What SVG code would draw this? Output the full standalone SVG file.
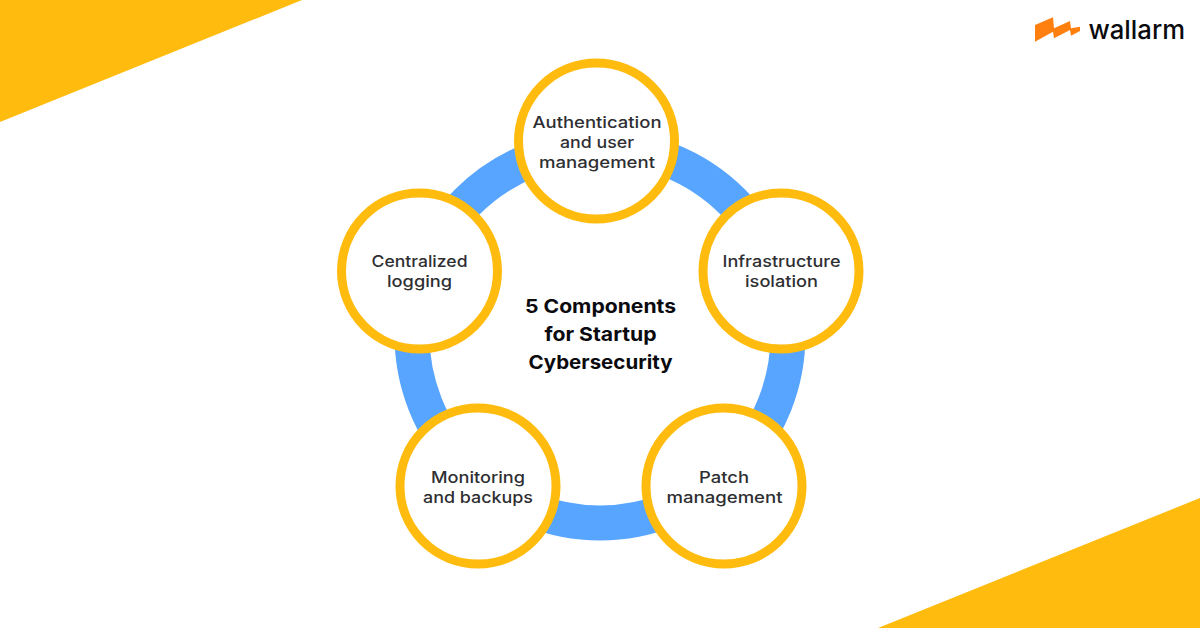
<svg xmlns="http://www.w3.org/2000/svg" width="1200" height="628" viewBox="0 0 1200 628">
<style>
.c{fill:#fff;stroke:#ffbc0f;stroke-width:9}
.t{font-family:"Inter","Liberation Sans",sans-serif;font-size:16px;font-weight:500;fill:#2f2f33;text-anchor:middle}
.h{font-family:"Inter","Liberation Sans",sans-serif;font-size:19px;font-weight:700;fill:#0b0b0f;text-anchor:middle}
</style>
<rect width="1200" height="628" fill="#fff"/>
<polygon points="0,0 302,0 0,122" fill="#ffbc0f"/>
<polygon points="1200,498 1200,628 878,628" fill="#ffbc0f"/>
<g id="logo">
<polygon points="1035,25 1053,17.300 1054,28.300 1070,21 1071,28.300 1080,26.700 1080,31 1071,35.700 1070,30 1054,38.300 1053,31.700 1035,41.700" fill="#ff7f0f"/>
<text x="1088.500" y="38.500" font-family="Inter,'Liberation Sans',sans-serif" font-size="26" font-weight="500" fill="#0b0b0f" textLength="96.500" lengthAdjust="spacingAndGlyphs">wallarm</text>
</g>
<g id="connectors"><circle cx="600" cy="335" r="188" fill="none" stroke="#57a5ff" stroke-width="35"/></g>
<g id="node-auth"><circle class="c" cx="596.500" cy="141" r="78"/>
<text class="t" x="597" y="127.500" textLength="129" lengthAdjust="spacingAndGlyphs">Authentication</text><text class="t" x="597" y="147.500" textLength="74" lengthAdjust="spacingAndGlyphs">and user</text><text class="t" x="597" y="167.500" textLength="116" lengthAdjust="spacingAndGlyphs">management</text></g>
<g id="node-infra"><circle class="c" cx="781" cy="271" r="78"/>
<text class="t" x="781.500" y="266.500" textLength="118" lengthAdjust="spacingAndGlyphs">Infrastructure</text><text class="t" x="781.500" y="286.500" textLength="73" lengthAdjust="spacingAndGlyphs">isolation</text></g>
<g id="node-patch"><circle class="c" cx="724" cy="486" r="78"/>
<text class="t" x="724" y="482.500" textLength="50" lengthAdjust="spacingAndGlyphs">Patch</text><text class="t" x="724.500" y="502.500" textLength="116" lengthAdjust="spacingAndGlyphs">management</text></g>
<g id="node-monitor"><circle class="c" cx="478" cy="486" r="78"/>
<text class="t" x="478" y="482.500" textLength="94" lengthAdjust="spacingAndGlyphs">Monitoring</text><text class="t" x="478" y="502.500" textLength="110" lengthAdjust="spacingAndGlyphs">and backups</text></g>
<g id="node-log"><circle class="c" cx="419.500" cy="271" r="78"/>
<text class="t" x="419.500" y="266.500" textLength="96" lengthAdjust="spacingAndGlyphs">Centralized</text><text class="t" x="419.500" y="286.500" textLength="65" lengthAdjust="spacingAndGlyphs">logging</text></g>
<g id="title">
<text class="h" x="600.500" y="312.500" textLength="151" lengthAdjust="spacingAndGlyphs">5 Components</text><text class="h" x="600.500" y="340.500" textLength="112" lengthAdjust="spacingAndGlyphs">for Startup</text><text class="h" x="600.500" y="368.500" textLength="144" lengthAdjust="spacingAndGlyphs">Cybersecurity</text></g>
</svg>
